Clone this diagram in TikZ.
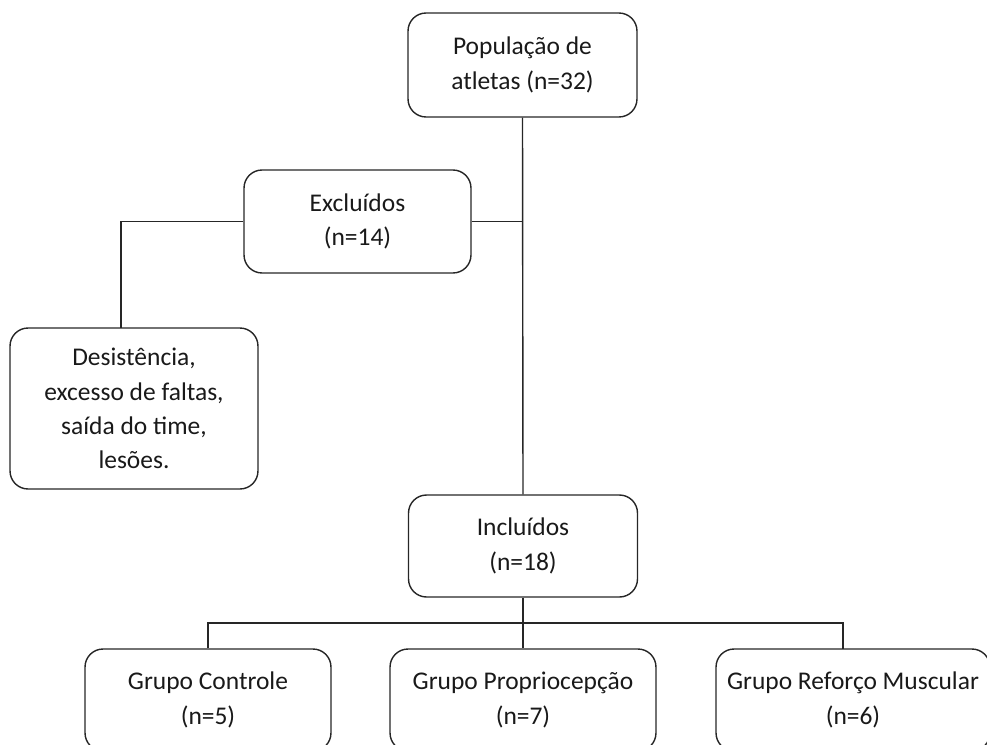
\documentclass[tikz,border=0pt]{standalone}
\usepackage{fontspec}
\setmainfont{Carlito}
\usetikzlibrary{positioning}

\begin{document}
\begin{tikzpicture}[x=0.02cm,y=-0.02cm,
caixa/.style={rectangle,draw=black!85,line width=0.8pt,rounded corners=0.36cm,align=center,inner sep=0pt,text=black!90,font=\fontsize{14.5}{19.5}\selectfont},
liga/.style={draw=black!85,line width=0.8pt}]
\clip (0,0) rectangle (987,744);
\node at (522.5,65)[caixa,minimum width=4.58cm,minimum height=2.08cm](pop){População de\\atletas (n=32)};
\node at (357.5,221.5)[caixa,minimum width=4.54cm,minimum height=2.06cm](excl){Excluídos\\(n=14)};
\node at (134,408.5)[caixa,minimum width=4.96cm,minimum height=3.22cm](desist){Desistência,\\excesso de faltas,\\saída do time,\\lesões.};
\node at (523,546)[caixa,minimum width=4.58cm,minimum height=2.04cm](incl){Incluídos\\(n=18)};
\node at (208,700)[caixa,minimum width=4.92cm,minimum height=2.04cm](ctrl){Grupo Controle\\(n=5)};
\node at (523,700)[caixa,minimum width=5.32cm,minimum height=2.04cm](prop){Grupo Propriocepção\\(n=7)};
\node at (853,700)[caixa,minimum width=5.48cm,minimum height=2.04cm](refo){Grupo Reforço Muscular\\(n=6)};
\coordinate (dobra) at (121,328);
\coordinate (ramo) at (523,623);
\coordinate (pe) at (843,649);
% ligacoes
\draw[liga] (pop.south) -- (incl.north);
\draw[liga] (excl.east) -- (excl.east -| pop.south);
\draw[liga] (excl.west) -| (dobra);
\draw[liga] (incl.south) -- (ramo);
\draw[liga] (ctrl.north) |- (ramo) -| (pe);
\draw[liga] (ramo) -- (prop.north);
\end{tikzpicture}
\end{document}
